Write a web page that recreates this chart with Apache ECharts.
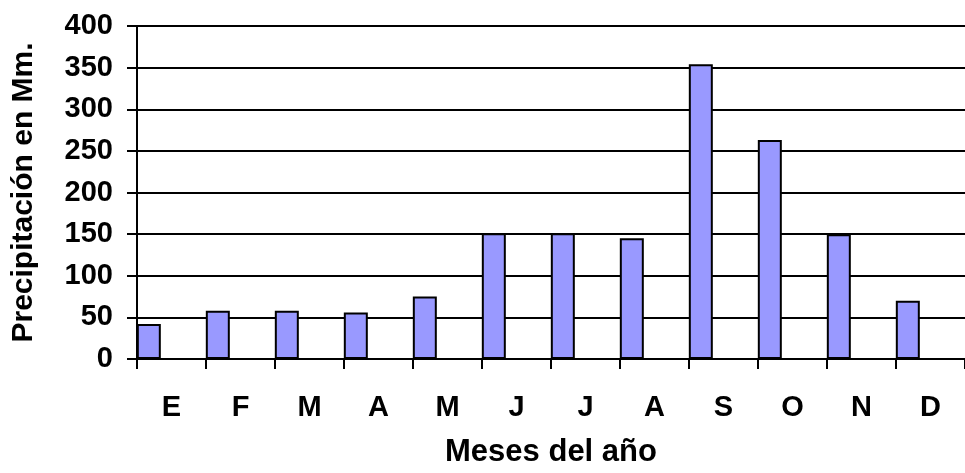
<!DOCTYPE html>
<html>
<head>
<meta charset="utf-8">
<script src="https://cdn.jsdelivr.net/npm/echarts@6/dist/echarts.min.js"></script>
<style>
  html, body { margin: 0; padding: 0; background: #fff; }
  #chart { width: 965px; height: 473px; }
</style>
</head>
<body>
<div id="chart"></div>
<script>
// meses (iniciales) y precipitación en mm
var meses = ['E', 'F', 'M', 'A', 'M', 'J', 'J', 'A', 'S', 'O', 'N', 'D'];
var precipitacion = [42, 58, 58, 56, 75, 151, 151, 145, 354, 263, 150, 70];
// serie vacía, sólo para empujar la barra al lado izquierdo de cada mes (como en Excel)
var vacio = [];

var font = 'Liberation Sans, Arial, sans-serif';
var chart = echarts.init(document.getElementById('chart'));

var option = {
  animation: false,
  backgroundColor: '#fff',
  grid: {
    left: 137,
    right: -5,
    top: 26,
    bottom: 108
  },
  xAxis: {
    type: 'category',
    data: meses,
    boundaryGap: true,
    name: 'Meses del año',
    nameLocation: 'middle',
    nameGap: 78,
    nameTextStyle: { fontFamily: font, fontWeight: 'bold', fontSize: 31, color: '#000' },
    axisLine: { lineStyle: { color: '#000', width: 2 } },
    axisTick: { show: true, length: 10, lineStyle: { color: '#000', width: 2 } },
    axisLabel: { fontFamily: font, fontWeight: 'bold', fontSize: 29, color: '#000', margin: 34 }
  },
  yAxis: {
    type: 'value',
    min: 0,
    max: 400,
    interval: 50,
    name: 'Precipitación en Mm.',
    nameLocation: 'middle',
    nameGap: 98,
    nameTextStyle: { fontFamily: font, fontWeight: 'bold', fontSize: 30, color: '#000' },
    axisLine: { show: true, lineStyle: { color: '#000', width: 2 } },
    axisTick: { show: true, length: 10, lineStyle: { color: '#000', width: 2 } },
    axisLabel: { fontFamily: font, fontWeight: 'bold', fontSize: 29, color: '#000', margin: 24 },
    splitLine: { show: true, lineStyle: { color: '#000', width: 2 } }
  },
  series: [
    {
      name: 'Precipitación',
      type: 'bar',
      data: precipitacion,
      barWidth: 24,
      itemStyle: { color: '#9999FF', borderColor: '#000', borderWidth: 2 }
    },
    {
      name: 'vacio',
      type: 'bar',
      data: vacio,
      barWidth: 24,
      barGap: '89%'
    }
  ]
};

chart.setOption(option);
</script>
</body>
</html>
